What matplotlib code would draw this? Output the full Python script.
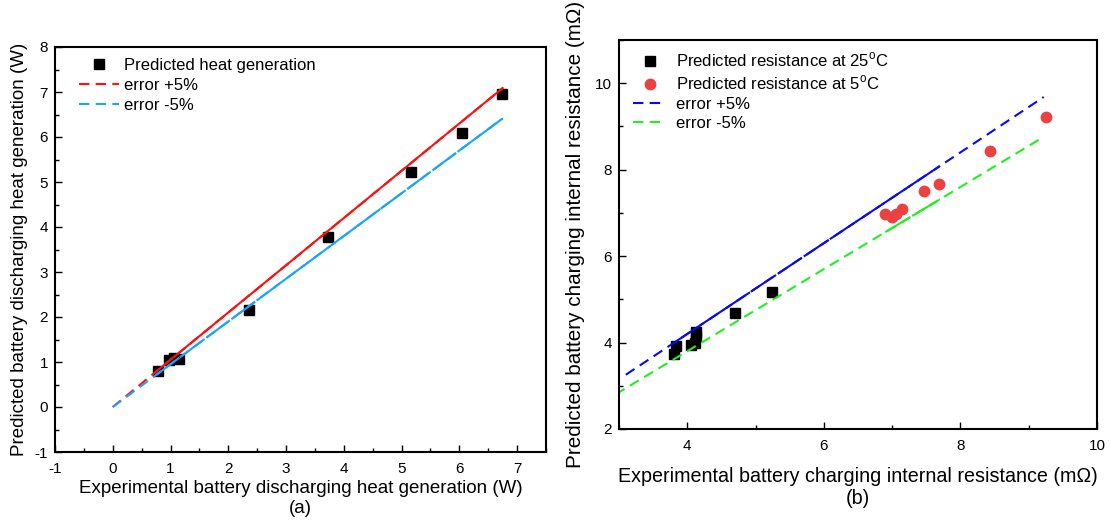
import matplotlib
matplotlib.use("Agg")
import matplotlib.pyplot as plt
import numpy as np
from matplotlib.ticker import MultipleLocator

plt.rcParams['font.family'] = ['Liberation Sans', 'DejaVu Sans']
plt.rcParams['axes.unicode_minus'] = False
plt.rcParams['mathtext.fontset'] = 'custom'
plt.rcParams['mathtext.rm'] = 'Liberation Sans'

# (a) heat generation
heat_exp = [0.79, 0.98, 1.06, 1.15, 2.35, 3.73, 5.16, 6.04, 6.74]
heat_pred = [0.80, 1.04, 1.10, 1.07, 2.15, 3.78, 5.22, 6.10, 6.95]
heat_line_x = [0.0, 6.75]      # extent of the +/-5% lines
heat_data_x = [0.75, 6.75]     # part drawn over the data range

# (b) internal resistance
res25_exp = [3.81, 3.83, 4.05, 4.12, 4.13, 4.13, 4.70, 5.24]
res25_pred = [3.74, 3.92, 3.95, 3.98, 4.15, 4.25, 4.69, 5.16]
res5_exp = [6.90, 7.00, 7.05, 7.15, 7.46, 7.68, 8.44, 9.26]
res5_pred = [6.98, 6.91, 6.98, 7.08, 7.51, 7.67, 8.43, 9.22]
res_plus_x = [3.1, 9.22]
res_minus_x = [2.95, 9.22]
res_plus_solid = [3.8, 7.7]
res_minus_solid = [6.9, 7.7]

dash = (0, (5, 3))

W, H = 1110, 522
fig = plt.figure(figsize=(W / 100, H / 100), dpi=100)
ax1 = fig.add_axes([55 / W, 1 - 452 / H, (546 - 55) / W, (452 - 47) / H])
ax2 = fig.add_axes([619 / W, 1 - 429 / H, (1097 - 619) / W, (429 - 40) / H])

# ---- panel (a)
x = np.array(heat_line_x)
xs = np.array(heat_data_x)
ax1.plot(heat_exp, heat_pred, 's', color='black', ms=6.5, linestyle='none',
         label='Predicted heat generation')
ax1.plot(x, 1.05 * x, color='#ff1010', lw=1.5, linestyle=dash, label='error +5%')
ax1.plot(xs, 1.05 * xs, color='#ff1010', lw=1.5)
ax1.plot(x, 0.95 * x, color='#1aa3ff', lw=1.5, linestyle=dash, label='error -5%')
ax1.plot(xs, 0.95 * xs, color='#1aa3ff', lw=1.5, linestyle=(0, (14, 1)))
ax1.set_xlim(-1, 7.5)
ax1.set_ylim(-1, 8)
ax1.xaxis.set_major_locator(MultipleLocator(1))
ax1.xaxis.set_minor_locator(MultipleLocator(0.5))
ax1.yaxis.set_major_locator(MultipleLocator(1))
ax1.yaxis.set_minor_locator(MultipleLocator(0.5))
ax1.set_xlabel('Experimental battery discharging heat generation (W)\n(a)',
               fontsize=13.5, labelpad=3, linespacing=1.25)
ax1.set_ylabel('Predicted battery discharging heat generation (W)', fontsize=13.5,
               labelpad=5)
ax1.legend(loc='upper left', bbox_to_anchor=(24 / 491, 1 - 11 / 405),
           frameon=False, fontsize=12, handlelength=2.4, borderaxespad=0,
           borderpad=0, labelspacing=0.3, handletextpad=0.3)

# ---- panel (b)
xp = np.array(res_plus_x)
xm = np.array(res_minus_x)
ax2.plot(res25_exp, res25_pred, 's', color='black', ms=6.5, linestyle='none',
         label='Predicted resistance at 25$^{\\mathrm{o}}$C')
ax2.plot(res5_exp, res5_pred, 'o', color='#ee4040', ms=7.5, linestyle='none',
         label='Predicted resistance at 5$^{\\mathrm{o}}$C')
ax2.plot(xp, 1.05 * xp, color='#0a0af0', lw=1.5, linestyle=dash, label='error +5%')
ax2.plot(np.array(res_plus_solid), 1.05 * np.array(res_plus_solid),
         color='#0a0af0', lw=1.5, linestyle=(0, (14, 1)))
ax2.plot(xm, 0.95 * xm, color='#22ee22', lw=1.5, linestyle=dash, label='error -5%')
ax2.plot(np.array(res_minus_solid), 0.95 * np.array(res_minus_solid),
         color='#22ee22', lw=1.5, linestyle=(0, (14, 1)))
ax2.set_xlim(3, 10)
ax2.set_ylim(2, 11)
ax2.xaxis.set_major_locator(MultipleLocator(2))
ax2.xaxis.set_minor_locator(MultipleLocator(1))
ax2.yaxis.set_major_locator(MultipleLocator(2))
ax2.yaxis.set_minor_locator(MultipleLocator(1))
ax2.set_xlabel('Experimental battery charging internal resistance (mΩ)\n(b)',
               fontsize=14.2, labelpad=10, linespacing=1.2)
ax2.set_ylabel('Predicted battery charging internal resistance (mΩ)',
               fontsize=14.9, labelpad=7)
ax2.legend(loc='upper left', bbox_to_anchor=(14 / 478, 1 - 11 / 389),
           frameon=False, fontsize=12, handlelength=2.0, borderaxespad=0,
           borderpad=0, labelspacing=0.25, handletextpad=0.6)

for ax in (ax1, ax2):
    ax.tick_params(which='both', direction='in', labelsize=11)
    ax.tick_params(axis='x', pad=7)
    ax.tick_params(axis='y', pad=5)
    ax.tick_params(which='major', length=5, width=1)
    ax.tick_params(which='minor', length=3, width=1)
    for s in ax.spines.values():
        s.set_linewidth(1.5)

fig.savefig('out.png', dpi=100)
